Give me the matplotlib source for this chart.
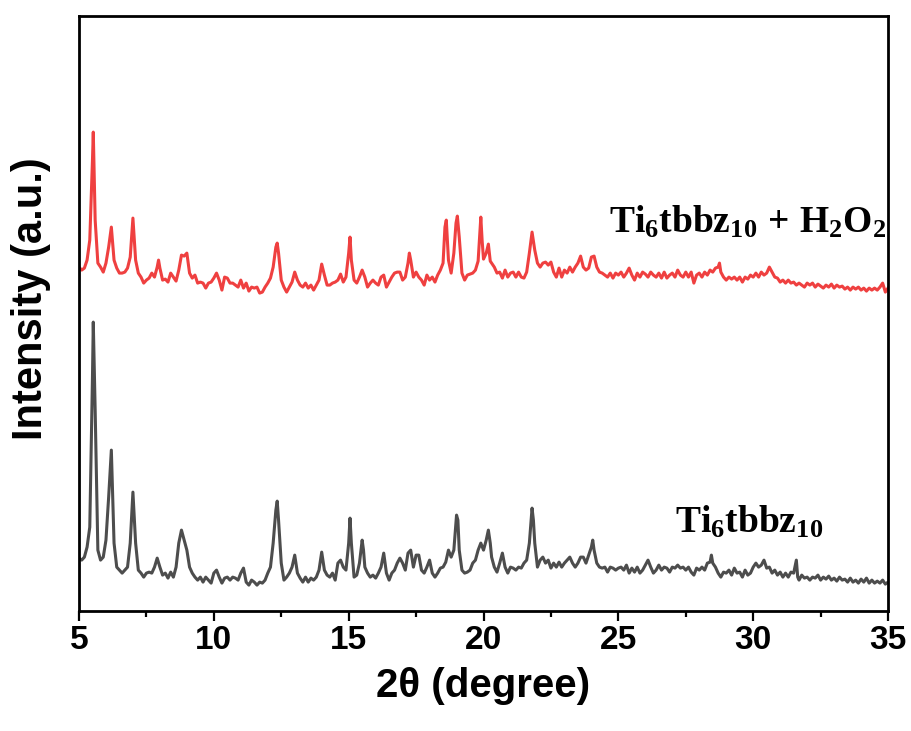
import matplotlib
matplotlib.use("Agg")
import matplotlib.pyplot as plt
from matplotlib import font_manager
from matplotlib.ticker import MultipleLocator

# XRD patterns, intensity in arbitrary units (2theta, counts a.u.)
# Ti6tbbz10 + H2O2 (red, offset upward)
red_xy = [
    (5.0, 344), (5.1, 341), (5.2, 343), (5.3, 351), (5.4, 371), (5.5, 451), (5.53, 479), (5.6, 391),
    (5.7, 348), (5.8, 344), (5.9, 339), (6.0, 348), (6.1, 364), (6.2, 384), (6.3, 351), (6.4, 343),
    (6.5, 338), (6.6, 338), (6.7, 339), (6.8, 343), (6.9, 354), (7.0, 393), (7.1, 351), (7.2, 338),
    (7.3, 334), (7.4, 328), (7.5, 331), (7.6, 333), (7.7, 338), (7.8, 334), (7.9, 344), (7.95, 351),
    (8.0, 343), (8.1, 331), (8.2, 332), (8.3, 329), (8.4, 338), (8.5, 334), (8.6, 330), (8.7, 341),
    (8.8, 356), (8.9, 355), (9.0, 358), (9.1, 338), (9.2, 333), (9.3, 336), (9.4, 328), (9.5, 329),
    (9.6, 328), (9.7, 323), (9.8, 328), (9.9, 329), (10.0, 333), (10.1, 338), (10.2, 331), (10.3, 321),
    (10.4, 334), (10.5, 333), (10.6, 328), (10.7, 328), (10.8, 326), (10.9, 324), (11.0, 331), (11.1, 323),
    (11.2, 328), (11.3, 320), (11.4, 324), (11.5, 323), (11.6, 324), (11.7, 318), (11.8, 319), (11.9, 324),
    (12.0, 328), (12.1, 333), (12.2, 344), (12.3, 364), (12.35, 368), (12.4, 358), (12.5, 331), (12.6, 324),
    (12.7, 319), (12.8, 324), (12.9, 329), (13.0, 339), (13.1, 331), (13.2, 326), (13.3, 324), (13.4, 328),
    (13.5, 323), (13.6, 326), (13.7, 321), (13.8, 326), (13.9, 331), (14.0, 347), (14.1, 336), (14.2, 326),
    (14.3, 326), (14.4, 328), (14.5, 329), (14.6, 331), (14.7, 337), (14.8, 329), (14.9, 334), (15.0, 358),
    (15.05, 374), (15.1, 351), (15.2, 331), (15.3, 328), (15.4, 334), (15.5, 341), (15.6, 334), (15.7, 324),
    (15.8, 328), (15.9, 331), (16.0, 328), (16.1, 326), (16.2, 334), (16.3, 336), (16.4, 324), (16.5, 329),
    (16.6, 334), (16.7, 338), (16.8, 339), (16.9, 339), (17.0, 331), (17.1, 334), (17.2, 348), (17.25, 358),
    (17.3, 351), (17.4, 334), (17.5, 339), (17.6, 334), (17.7, 331), (17.8, 326), (17.9, 336), (18.0, 331),
    (18.1, 334), (18.2, 329), (18.3, 336), (18.4, 341), (18.5, 348), (18.57, 384), (18.62, 391), (18.7, 351),
    (18.8, 338), (18.9, 358), (18.98, 388), (19.03, 395), (19.1, 374), (19.2, 338), (19.3, 331), (19.4, 336),
    (19.5, 337), (19.6, 338), (19.7, 341), (19.8, 350), (19.85, 372), (19.9, 394), (19.95, 370), (20.0, 352),
    (20.1, 358), (20.18, 367), (20.25, 350), (20.3, 348), (20.4, 344), (20.5, 338), (20.6, 339), (20.7, 333),
    (20.8, 341), (20.9, 334), (21.0, 338), (21.1, 339), (21.2, 334), (21.3, 339), (21.4, 334), (21.5, 333),
    (21.6, 339), (21.7, 358), (21.8, 379), (21.85, 370), (21.9, 361), (22.0, 348), (22.1, 344), (22.2, 348),
    (22.3, 349), (22.4, 346), (22.5, 349), (22.6, 339), (22.7, 334), (22.8, 343), (22.9, 334), (23.0, 341),
    (23.1, 338), (23.2, 344), (23.3, 339), (23.4, 344), (23.5, 348), (23.6, 355), (23.7, 344), (23.8, 341),
    (23.9, 343), (24.0, 354), (24.1, 355), (24.2, 344), (24.3, 339), (24.4, 338), (24.5, 336), (24.6, 334),
    (24.7, 338), (24.8, 333), (24.9, 338), (25.0, 336), (25.1, 339), (25.2, 334), (25.3, 338), (25.4, 343),
    (25.5, 336), (25.6, 331), (25.7, 338), (25.8, 334), (25.9, 339), (26.0, 337), (26.1, 334), (26.2, 339),
    (26.3, 336), (26.4, 334), (26.5, 338), (26.6, 333), (26.7, 339), (26.8, 333), (26.9, 336), (27.0, 338),
    (27.1, 334), (27.2, 341), (27.3, 336), (27.4, 334), (27.5, 339), (27.6, 334), (27.7, 339), (27.8, 328),
    (27.9, 336), (28.0, 338), (28.1, 334), (28.2, 339), (28.3, 336), (28.4, 341), (28.5, 339), (28.6, 343),
    (28.7, 344), (28.75, 348), (28.8, 339), (28.9, 334), (29.0, 331), (29.1, 334), (29.2, 332), (29.3, 334),
    (29.4, 331), (29.5, 334), (29.6, 329), (29.7, 334), (29.8, 332), (29.9, 336), (30.0, 334), (30.1, 338),
    (30.2, 334), (30.3, 339), (30.4, 336), (30.5, 338), (30.6, 344), (30.7, 339), (30.8, 334), (30.9, 333),
    (31.0, 329), (31.1, 331), (31.2, 328), (31.3, 331), (31.4, 328), (31.5, 329), (31.6, 326), (31.7, 328),
    (31.8, 326), (31.9, 324), (32.0, 328), (32.1, 326), (32.2, 328), (32.3, 324), (32.4, 327), (32.5, 325),
    (32.6, 323), (32.7, 326), (32.8, 324), (32.9, 327), (33.0, 323), (33.1, 326), (33.2, 324), (33.3, 325),
    (33.4, 322), (33.5, 324), (33.6, 321), (33.7, 324), (33.8, 322), (33.9, 324), (34.0, 321), (34.1, 323),
    (34.2, 320), (34.3, 323), (34.4, 321), (34.5, 323), (34.6, 321), (34.7, 324), (34.8, 328), (34.9, 319),
    (35.0, 323),
]

# Ti6tbbz10 (dark grey, bottom)
grey_xy = [
    (5.0, 53), (5.1, 51), (5.2, 54), (5.3, 64), (5.4, 84), (5.5, 234), (5.53, 289), (5.6, 201),
    (5.7, 61), (5.8, 51), (5.9, 54), (6.0, 71), (6.1, 114), (6.2, 161), (6.3, 68), (6.4, 44),
    (6.5, 41), (6.6, 38), (6.7, 41), (6.8, 44), (6.9, 68), (7.0, 119), (7.1, 68), (7.2, 41),
    (7.3, 38), (7.4, 34), (7.5, 38), (7.6, 39), (7.7, 38), (7.8, 44), (7.9, 53), (8.0, 44),
    (8.1, 36), (8.2, 38), (8.3, 33), (8.4, 39), (8.5, 34), (8.6, 44), (8.7, 68), (8.8, 81),
    (8.9, 71), (9.0, 61), (9.1, 44), (9.2, 38), (9.3, 34), (9.4, 31), (9.5, 34), (9.6, 29),
    (9.7, 34), (9.8, 31), (9.9, 28), (10.0, 38), (10.1, 41), (10.2, 34), (10.3, 28), (10.4, 33),
    (10.5, 34), (10.6, 31), (10.7, 34), (10.8, 33), (10.9, 31), (11.0, 38), (11.1, 43), (11.2, 29),
    (11.3, 26), (11.4, 31), (11.5, 29), (11.6, 26), (11.7, 29), (11.8, 28), (11.9, 31), (12.0, 38),
    (12.1, 44), (12.2, 68), (12.3, 101), (12.35, 110), (12.4, 91), (12.5, 48), (12.6, 31), (12.7, 34),
    (12.8, 38), (12.9, 44), (13.0, 56), (13.1, 38), (13.2, 33), (13.3, 29), (13.4, 34), (13.5, 29),
    (13.6, 33), (13.7, 31), (13.8, 34), (13.9, 41), (14.0, 59), (14.1, 41), (14.2, 36), (14.3, 34),
    (14.4, 38), (14.5, 31), (14.6, 48), (14.7, 51), (14.8, 44), (14.9, 41), (15.0, 68), (15.05, 93),
    (15.1, 68), (15.2, 34), (15.3, 36), (15.4, 48), (15.5, 71), (15.55, 61), (15.6, 44), (15.7, 38),
    (15.8, 34), (15.9, 36), (16.0, 33), (16.1, 38), (16.2, 44), (16.3, 58), (16.4, 38), (16.5, 31),
    (16.6, 38), (16.7, 41), (16.8, 48), (16.9, 53), (17.0, 48), (17.1, 41), (17.2, 58), (17.3, 61),
    (17.4, 44), (17.5, 56), (17.6, 56), (17.7, 41), (17.8, 38), (17.9, 44), (18.0, 51), (18.1, 38),
    (18.2, 34), (18.3, 38), (18.4, 43), (18.5, 44), (18.6, 49), (18.7, 61), (18.8, 54), (18.9, 61),
    (19.0, 96), (19.05, 91), (19.1, 61), (19.2, 41), (19.3, 38), (19.4, 39), (19.5, 41), (19.6, 48),
    (19.7, 51), (19.8, 61), (19.9, 68), (20.0, 61), (20.1, 71), (20.18, 81), (20.25, 68), (20.3, 54),
    (20.4, 44), (20.5, 39), (20.6, 48), (20.7, 58), (20.8, 44), (20.9, 38), (21.0, 44), (21.1, 43),
    (21.2, 41), (21.3, 44), (21.4, 43), (21.5, 48), (21.6, 51), (21.7, 68), (21.8, 103), (21.85, 91),
    (21.9, 68), (22.0, 44), (22.1, 51), (22.2, 54), (22.3, 48), (22.4, 51), (22.5, 43), (22.6, 48),
    (22.7, 44), (22.8, 49), (22.9, 44), (23.0, 48), (23.1, 51), (23.2, 54), (23.3, 48), (23.4, 44),
    (23.5, 48), (23.6, 54), (23.7, 54), (23.8, 48), (23.9, 56), (24.0, 64), (24.05, 71), (24.1, 61),
    (24.2, 48), (24.3, 44), (24.4, 43), (24.5, 44), (24.6, 39), (24.7, 44), (24.8, 43), (24.9, 41),
    (25.0, 43), (25.1, 44), (25.2, 41), (25.3, 46), (25.4, 38), (25.5, 43), (25.6, 39), (25.7, 44),
    (25.8, 38), (25.9, 41), (26.0, 46), (26.1, 51), (26.2, 44), (26.3, 38), (26.4, 41), (26.5, 46),
    (26.6, 41), (26.7, 44), (26.8, 43), (26.9, 39), (27.0, 44), (27.1, 43), (27.2, 46), (27.3, 43),
    (27.4, 44), (27.5, 41), (27.6, 44), (27.7, 39), (27.8, 36), (27.9, 43), (28.0, 41), (28.1, 44),
    (28.2, 41), (28.3, 48), (28.4, 49), (28.45, 56), (28.5, 48), (28.6, 44), (28.7, 38), (28.8, 34),
    (28.9, 39), (29.0, 38), (29.1, 41), (29.2, 36), (29.3, 43), (29.4, 38), (29.5, 39), (29.6, 34),
    (29.7, 41), (29.8, 36), (29.9, 38), (30.0, 44), (30.1, 48), (30.2, 44), (30.3, 46), (30.4, 51),
    (30.5, 43), (30.6, 44), (30.7, 38), (30.8, 41), (30.9, 36), (31.0, 39), (31.1, 34), (31.2, 38),
    (31.3, 34), (31.4, 39), (31.5, 38), (31.6, 51), (31.65, 34), (31.7, 31), (31.8, 36), (31.9, 33),
    (32.0, 34), (32.1, 31), (32.2, 34), (32.3, 33), (32.4, 36), (32.5, 31), (32.6, 34), (32.7, 32),
    (32.8, 35), (32.9, 31), (33.0, 33), (33.1, 30), (33.2, 34), (33.3, 31), (33.4, 32), (33.5, 29),
    (33.6, 33), (33.7, 29), (33.8, 31), (33.9, 28), (34.0, 32), (34.1, 29), (34.2, 33), (34.3, 28),
    (34.4, 31), (34.5, 28), (34.6, 30), (34.7, 28), (34.8, 31), (34.9, 27), (35.0, 29),
]

labels = [r"$\mathrm{Ti_6tbbz_{10}\ {+}\ H_2O_2}$", r"$\mathrm{Ti_6tbbz_{10}}$"]
label_pos = [(24.65, 378), (27.1, 79)]


def pick_font(names):
    for n in names:
        try:
            font_manager.findfont(n, fallback_to_default=False)
            return n
        except Exception:
            pass
    return "DejaVu Sans"


sans = pick_font(["Liberation Sans Narrow", "Arial Narrow", "Liberation Sans", "Arial"])
sans_wide = pick_font(["Liberation Sans", "Arial"])

plt.rcParams["mathtext.fontset"] = "custom"
plt.rcParams["mathtext.rm"] = "Liberation Serif:bold"
plt.rcParams["mathtext.it"] = "Liberation Serif:bold"
plt.rcParams["mathtext.bf"] = "Liberation Serif:bold"

fig = plt.figure(figsize=(9.11, 7.31), dpi=100)
ax = fig.add_axes([0.0867, 0.164, 0.8881, 0.814])

rx, ry = zip(*red_xy)
gx, gy = zip(*grey_xy)
ax.plot(rx, ry, color="#EF4040", lw=2.2)
ax.plot(gx, gy, color="#4D4D4D", lw=2.2)

ax.set_xlim(5, 35)
ax.set_ylim(0, 595)
ax.xaxis.set_major_locator(MultipleLocator(5))
ax.xaxis.set_minor_locator(MultipleLocator(2.5))
ax.set_yticks([])
ax.tick_params(axis="x", which="major", direction="out", length=7, width=1.6, pad=3)
ax.tick_params(axis="x", which="minor", direction="out", length=4, width=1.6)
for s in ax.spines.values():
    s.set_linewidth(2.0)

for t in ax.get_xticklabels():
    t.set_fontfamily(sans)
    t.set_fontweight("bold")
    t.set_fontsize(24)

ax.set_xlabel("2θ (degree)", fontfamily=sans, fontweight="bold", fontsize=29, labelpad=8)
ax.set_ylabel("Intensity (a.u.)", fontfamily=sans_wide, fontweight="bold", fontsize=30)
ax.yaxis.set_label_coords(-0.034, 0.525)

for txt, (x, y) in zip(labels, label_pos):
    ax.text(x, y, txt, fontsize=27, ha="left", va="baseline")

fig.savefig("out.png", dpi=100)
